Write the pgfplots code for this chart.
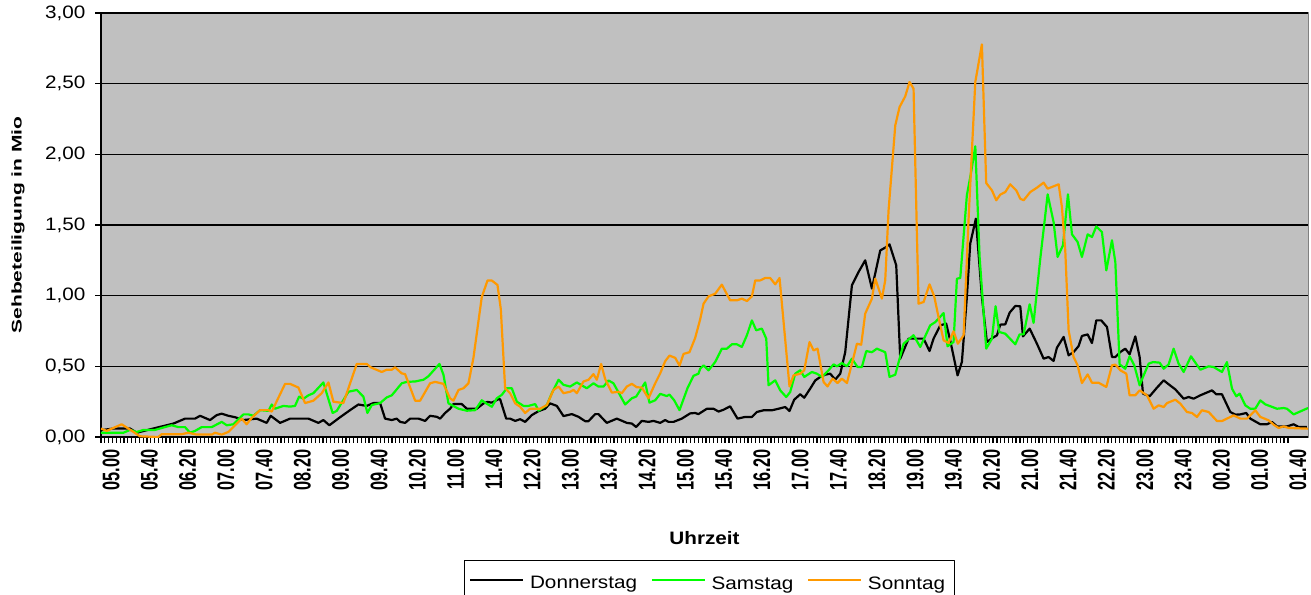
\documentclass[border=0pt]{standalone}
\usepackage{fontspec}
\setmainfont{Liberation Sans}
% the reference has oddly stretched / squeezed text, so use scaled faces
\newfontfamily\widefont[FakeStretch=1.15]{Liberation Sans}
\newfontfamily\xlabfont[FakeStretch=0.68]{Liberation Sans}
\newfontfamily\ytitfont[FakeStretch=1.5]{Liberation Sans}
\usepackage{pgfplots}
\pgfplotsset{compat=1.18}

\definecolor{bggray}{HTML}{C0C0C0}
\definecolor{framegray}{HTML}{808080}
\definecolor{samgreen}{HTML}{00FF00}
\definecolor{sonorange}{HTML}{FF9900}

\begin{document}
\begin{tikzpicture}
\begin{axis}[
    name=ax,
    scale only axis,
    width=603.5pt,
    height=212pt,
    xmin=0, xmax=1261,
    ymin=0, ymax=3,
    axis background/.style={fill=bggray, draw=framegray, line width=0.5pt},
    axis x line=bottom,
    axis y line=left,
    axis line style={-, black, line width=1pt},
    tick align=outside,
    tick style={black, line width=0.6pt},
    major tick length=2.8pt,
    minor tick length=2.8pt,
    xtick={0,40,...,1240},
    minor x tick num=9,
    xticklabels={05.00,05.40,06.20,07.00,07.40,08.20,09.00,09.40,10.20,11.00,11.40,12.20,13.00,13.40,14.20,15.00,15.40,16.20,17.00,17.40,18.20,19.00,19.40,20.20,21.00,21.40,22.20,23.00,23.40,00.20,01.00,01.40},
    xticklabel style={rotate=90, anchor=east, yshift=-5pt,
        font=\xlabfont\bfseries\fontsize{12}{13}\selectfont},
    ytick={0,0.5,1,1.5,2,2.5,3},
    yticklabel style={xshift=-1.5pt, font=\widefont\fontsize{9}{11}\selectfont,
        /pgf/number format/.cd, fixed, fixed zerofill, precision=2, use comma},
    /pgf/number format/assume math mode=true,
    ymajorgrids,
    major grid style={black, line width=0.6pt},
    every axis y label/.style={at={(axis description cs:-0.0688,0.5)}, rotate=90, anchor=center},
    every axis x label/.style={at={(axis description cs:0.5,-0.238)}, anchor=center},
    ylabel={\ytitfont\bfseries\fontsize{7}{8}\selectfont Sehbeteiligung in Mio},
    xlabel={\widefont\bfseries\fontsize{9}{11}\selectfont Uhrzeit},
    legend columns=3,
    legend style={at={(0.3007,-0.290)}, anchor=north west, draw=black, line width=0.5pt,
        fill=white, font=\widefont\fontsize{9}{11}\selectfont,
        inner xsep=2.5pt, inner ysep=6pt,
        /tikz/every odd column/.append style={column sep=1pt},
        /tikz/every even column/.append style={column sep=5pt}},
    legend image code/.code={\draw[#1, line width=0.8pt] (0pt,2pt) -- (26.5pt,2pt);},
    line join=round,
]
% Donnerstag
\addplot[black, line width=1.1pt] coordinates {
(0,0.048) (12.9,0.06) (30.3,0.06) (37.3,0.03) (54.7,0.06) (75.6,0.095) (87.8,0.13) (98.2,0.13)
(103.5,0.15) (113.9,0.12) (120.9,0.155) (126.1,0.165) (133.1,0.15) (140,0.14) (148.8,0.12)
(162.7,0.13) (173.1,0.10) (177.3,0.15) (187.1,0.10) (197.5,0.13) (216.7,0.13) (227.1,0.10)
(232.3,0.12) (238.6,0.083) (249.8,0.14) (260.2,0.19) (268.9,0.23) (277.6,0.22) (284.6,0.24)
(291.6,0.24) (296.8,0.13) (303.8,0.12) (309,0.13) (312.5,0.107) (317.7,0.10) (323,0.13)
(331.7,0.13) (338.6,0.114) (343.8,0.15) (350.8,0.143) (354.3,0.13) (359.5,0.17) (364.7,0.2)
(368.2,0.233) (376.9,0.233) (382.2,0.2) (392.6,0.2) (399.6,0.238) (403.8,0.248) (408.3,0.243)
(415.2,0.267) (417,0.267) (423.3,0.13) (427.4,0.13) (432.7,0.114) (437.9,0.126) (443.1,0.107)
(450.1,0.155) (457.1,0.183) (464,0.2) (469.2,0.238) (476.2,0.22) (483.2,0.148) (491.9,0.162)
(498.8,0.143) (505.8,0.112) (509.3,0.112) (516.3,0.162) (519.7,0.162) (528.4,0.10) (538.9,0.13)
(549.3,0.10) (554.6,0.095) (559.1,0.071) (565,0.114) (572,0.107) (577.2,0.114) (584.2,0.10)
(589.4,0.12) (592.9,0.107) (598.1,0.107) (606.8,0.13) (615.5,0.167) (620.7,0.17) (624.2,0.162)
(626,0.17) (633,0.2) (639.9,0.2) (645.2,0.18) (650.4,0.193) (657.3,0.217) (665,0.13) (673,0.142)
(680,0.142) (685.2,0.177) (692.2,0.189) (700.9,0.189) (707.9,0.2) (714.8,0.212) (719.3,0.184)
(724.2,0.264) (730.5,0.302) (734.7,0.278) (740.9,0.342) (746.2,0.4) (751.4,0.425) (756.6,0.441)
(761.8,0.448) (767.1,0.406) (772.3,0.448) (777.5,0.6) (784.5,1.073) (791.4,1.167) (798.4,1.25)
(805.4,1.05) (814.1,1.32) (819.3,1.34) (823.8,1.363) (830.8,1.215) (835,0.554) (843.7,0.696)
(848.9,0.696) (859.4,0.696) (865.6,0.608) (869.8,0.696) (876.8,0.79) (883,0.802) (887.2,0.684)
(894.9,0.436) (899.4,0.531) (904.6,0.99) (908.1,1.368) (914,1.545) (920.3,0.99) (925.5,0.672)
(931.8,0.703) (936,0.719) (939.5,0.795) (944.7,0.797) (949.3,0.88) (955.2,0.927) (960.4,0.925)
(963.2,0.712) (970.2,0.767) (977.8,0.66) (984.8,0.554) (990,0.566) (995.2,0.538) (998.7,0.632)
(1005.7,0.708) (1010.9,0.578) (1016.1,0.601) (1021.4,0.644) (1024.8,0.715) (1030.8,0.726)
(1035.3,0.665) (1039.8,0.825) (1045,0.825) (1051,0.778) (1056.2,0.566) (1059.7,0.566)
(1064.9,0.601) (1070.1,0.625) (1074.6,0.585) (1080.6,0.712) (1085.1,0.566) (1088.6,0.307)
(1095.5,0.288) (1103.2,0.349) (1110.2,0.401) (1115.4,0.373) (1122.4,0.337) (1131.1,0.271)
(1136.3,0.283) (1141.5,0.271) (1148.5,0.295) (1160.7,0.33) (1165.2,0.302) (1171.1,0.302)
(1179.8,0.177) (1185.1,0.158) (1190.3,0.16) (1196.5,0.17) (1200.7,0.13) (1211.2,0.09)
(1218.1,0.09) (1223.4,0.106) (1228.6,0.075) (1239,0.075) (1246,0.09) (1251.2,0.071) (1259.9,0.071)
};
\addlegendentry{Donnerstag}
% Samstag
\addplot[samgreen, line width=1.1pt] coordinates {
(0,0.03) (23.3,0.03) (30.3,0.05) (37.3,0.035) (44.2,0.05) (51.2,0.05) (56.4,0.05) (65.1,0.067)
(73.9,0.083) (80.8,0.07) (87.8,0.07) (93,0.03) (98.2,0.043) (105.2,0.07) (115.7,0.07) (126.1,0.107)
(131.4,0.083) (138.3,0.09) (148.8,0.16) (154,0.16) (159.2,0.15) (166.2,0.19) (174.9,0.185)
(178.4,0.23) (181.8,0.2) (190.5,0.22) (197.5,0.215) (202.7,0.22) (207,0.286) (211.4,0.27)
(216.7,0.295) (221.9,0.31) (232.3,0.386) (242,0.17) (246.3,0.185) (258.5,0.32) (267.2,0.333)
(274.1,0.286) (278.3,0.17) (282.9,0.226) (291.6,0.24) (298.5,0.28) (303.8,0.295) (314.2,0.38)
(319.4,0.39) (328.2,0.393) (336.9,0.405) (342.1,0.43) (353.6,0.517) (357.8,0.44) (363,0.238)
(373.5,0.2) (382.2,0.186) (390.9,0.19) (397.8,0.26) (402.4,0.238) (408.3,0.214) (413.5,0.274)
(418.7,0.298) (424,0.345) (429.2,0.345) (434.4,0.25) (441.4,0.22) (446.6,0.22) (453.6,0.233)
(457.1,0.186) (465.8,0.226) (471,0.31) (478,0.405) (483.2,0.369) (490.1,0.357) (497.1,0.386)
(507.5,0.345) (514.5,0.38) (519.7,0.357) (525,0.357) (530.2,0.4) (535.4,0.38) (547.6,0.23)
(554.6,0.274) (559.1,0.286) (568.5,0.386) (573,0.243) (579,0.26) (584.2,0.305) (591.1,0.29)
(593.9,0.3) (598.8,0.26) (604.4,0.19) (612.7,0.345) (619,0.433) (624.2,0.448) (626,0.483)
(629.5,0.507) (634.7,0.472) (641.7,0.531) (648.6,0.625) (653.9,0.625) (659.1,0.656) (664.3,0.656)
(669.5,0.637) (674.8,0.72) (680,0.825) (684.5,0.755) (690.4,0.767) (695,0.696) (697.4,0.366)
(704.4,0.401) (709.6,0.33) (715.9,0.283) (720,0.318) (725.3,0.448) (730.5,0.472) (734.7,0.425)
(742.7,0.46) (747.9,0.448) (753.1,0.425) (760.1,0.472) (765.3,0.514) (768.8,0.5) (774,0.523)
(779.3,0.5) (784.5,0.554) (790.4,0.495) (794.9,0.495) (799.5,0.608) (805.4,0.6) (810.6,0.625)
(819.3,0.6) (823.8,0.425) (829.8,0.441) (838.5,0.66) (848.9,0.72) (855.9,0.637) (866.3,0.79)
(871.6,0.813) (880.3,0.877) (884.4,0.642) (890.7,0.672) (894.2,1.12) (897.7,1.125) (904.6,1.71)
(908.8,1.863) (913.4,2.057) (917.9,1.274) (924.8,0.625) (930.8,0.696) (934.6,0.925) (938.4,0.743)
(944.7,0.731) (955.2,0.656) (959.7,0.726) (963.9,0.726) (970.2,0.939) (974.3,0.807) (981.3,1.262)
(989,1.717) (995.2,1.521) (999.4,1.274) (1005,1.356) (1010.2,1.717) (1014.4,1.434) (1020.3,1.38)
(1024.8,1.274) (1030.8,1.434) (1035.3,1.415) (1039.8,1.49) (1045.7,1.45) (1050.3,1.179)
(1056.2,1.392) (1059.7,1.238) (1064.2,0.514) (1070.1,0.483) (1074.6,0.571) (1079.5,0.507)
(1085.1,0.366) (1089.3,0.436) (1094.5,0.519) (1099,0.53) (1106,0.526) (1110.2,0.483)
(1115.4,0.514) (1120.6,0.625) (1125.8,0.519) (1131.1,0.46) (1138.7,0.571) (1148.5,0.476)
(1157.2,0.5) (1162.4,0.495) (1171.1,0.46) (1176.3,0.53) (1181.6,0.342) (1186.1,0.288)
(1189.6,0.307) (1195.5,0.224) (1200.7,0.2) (1205.9,0.2) (1211.2,0.259) (1216.4,0.231)
(1228.6,0.2) (1235.6,0.205) (1239,0.2) (1246,0.16) (1261,0.205)
};
\addlegendentry{Samstag}
% Sonntag
\addplot[sonorange, line width=1.1pt] coordinates {
(0,0.06) (5.9,0.043) (21.6,0.09) (30.3,0.052) (40.7,0.005) (59.9,0) (63.4,0.02) (84.3,0.02)
(91.3,0.03) (100,0.017) (115.7,0.017) (119.1,0.03) (126.1,0.017) (133.1,0.036) (147,0.13)
(152.2,0.09) (157.5,0.136) (166.2,0.19) (174.9,0.19) (178.4,0.18) (192.3,0.376) (197.5,0.376)
(206.2,0.35) (213.2,0.24) (221.9,0.257) (230.6,0.31) (237.6,0.386) (242.8,0.25) (253.2,0.24)
(267.2,0.517) (277.6,0.517) (281.8,0.493) (293.3,0.46) (298.5,0.476) (303.8,0.476) (307.2,0.493)
(314.2,0.45) (317.7,0.445) (328.2,0.257) (333.4,0.257) (343.8,0.38) (349.1,0.39) (357.8,0.376)
(364.7,0.274) (368.2,0.257) (373.5,0.333) (378.7,0.345) (383.9,0.38) (389.1,0.56) (397.8,0.99)
(403.8,1.107) (408.3,1.107) (414.2,1.076) (417.7,0.905) (422.2,0.345) (427.4,0.31) (432.7,0.238)
(437.9,0.214) (443.1,0.17) (448.3,0.2) (458.8,0.2) (465.8,0.226) (472.7,0.333) (478,0.357)
(483.2,0.31) (490.1,0.32) (493.6,0.333) (497.1,0.31) (504.1,0.393) (509.3,0.405) (514.5,0.445)
(518,0.405) (522.5,0.517) (526.7,0.41) (533.7,0.314) (540.6,0.32) (544.1,0.31) (549.3,0.357)
(554.6,0.376) (559.8,0.352) (565,0.35) (572,0.274) (579,0.38) (584.2,0.45) (589.4,0.536)
(593.9,0.576) (599.9,0.56) (604.4,0.505) (608.6,0.588) (614.8,0.6) (620.7,0.70) (626,0.833)
(629.5,0.943) (634.7,0.995) (641.7,1.014) (648.6,1.078) (657.3,0.967) (664.3,0.967) (669.5,0.979)
(674.8,0.962) (680,0.995) (683.5,1.108) (688.7,1.108) (693.9,1.125) (699.1,1.125) (704.4,1.08)
(708.9,1.125) (719.3,0.358) (723.5,0.436) (730.5,0.448) (734.7,0.472) (740.2,0.672) (744.4,0.613)
(748.6,0.625) (754.9,0.389) (759,0.358) (764.3,0.413) (769.5,0.382) (774,0.413) (779.3,0.382)
(784.5,0.519) (789.7,0.66) (794.2,0.653) (798.4,0.873) (805.4,0.979) (808.9,1.12) (815.8,0.979)
(819.3,1.108) (822.8,1.604) (829.8,2.205) (834.3,2.335) (840.2,2.41) (844.7,2.512) (848.9,2.465)
(854.1,0.943) (859.4,0.955) (865.6,1.08) (870.5,0.995) (875.7,0.825) (880.3,0.684) (885.5,0.665)
(890.7,0.748) (895.2,0.66) (901.2,0.72) (906.4,1.545) (913.4,2.512) (920.3,2.778) (924.8,1.797)
(930.8,1.745) (935.3,1.675) (939.5,1.715) (944.7,1.733) (949.9,1.788) (956.2,1.745) (960.4,1.686)
(963.9,1.675) (970.8,1.733) (977.8,1.764) (984.8,1.8) (989,1.757) (1000.5,1.788) (1003.9,1.627)
(1007.4,1.32) (1010.9,0.755) (1016.1,0.566) (1020.3,0.507) (1024.8,0.382) (1030.8,0.443)
(1035.3,0.384) (1042.2,0.384) (1050.3,0.354) (1056.2,0.507) (1059.7,0.512) (1064.9,0.472)
(1071.2,0.448) (1074.6,0.295) (1080.6,0.295) (1085.1,0.33) (1092.8,0.295) (1099.7,0.2)
(1104.9,0.224) (1110.2,0.212) (1113.7,0.24) (1122.4,0.264) (1127.6,0.236) (1134.5,0.177)
(1139.8,0.17) (1145,0.142) (1150.2,0.189) (1157.2,0.177) (1165.9,0.113) (1171.1,0.113)
(1183.3,0.153) (1190.3,0.13) (1197.2,0.13) (1205.9,0.189) (1211.2,0.142) (1219.9,0.118)
(1225.1,0.087) (1230.3,0.064) (1235.6,0.075) (1240.8,0.064) (1261,0.059)
};
\addlegendentry{Sonntag\hspace{3pt}}
\end{axis}
% the reference is cut off just below the legend text
\pgfresetboundingbox
\path ([shift={(-50.5pt,-78.5pt)}]ax.south west) rectangle ([shift={(1.5pt,6.5pt)}]ax.north east);
\end{tikzpicture}
\end{document}
